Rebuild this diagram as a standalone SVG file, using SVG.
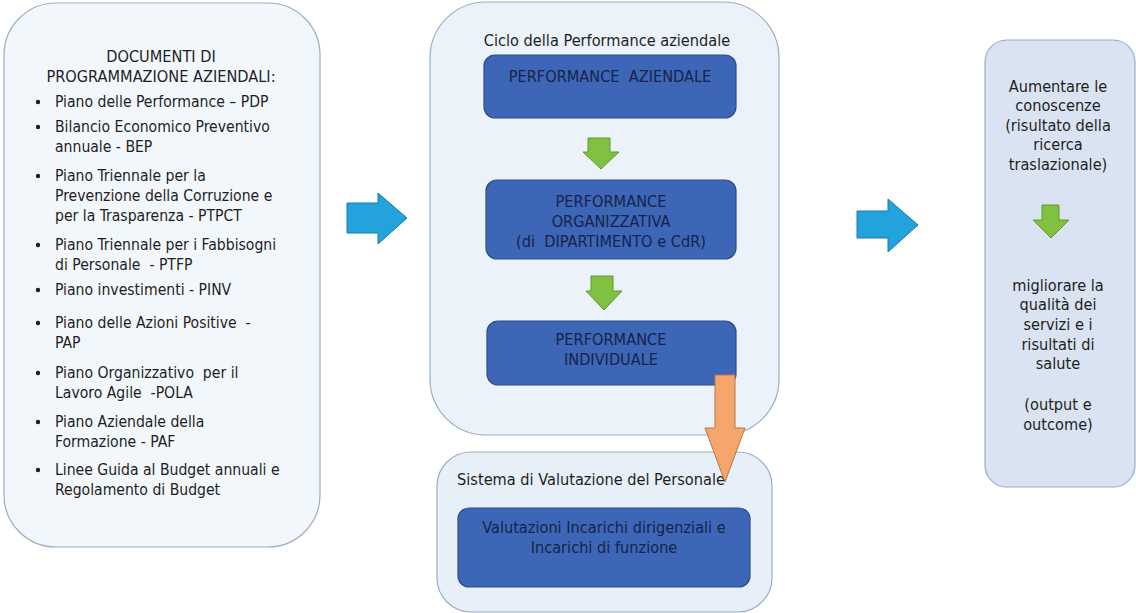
<svg xmlns="http://www.w3.org/2000/svg" width="1136" height="613" viewBox="0 0 1136 613">
  <style>
    .panel { stroke: #9aaec4; stroke-width: 1.2; }
    .box { fill: #3e66b6; stroke: #2c4d8c; stroke-width: 1.2; }
    .t { font-family: Tahoma, "DejaVu Sans Condensed", "Liberation Sans", sans-serif; fill: #1e1e1e; }
    .tl { font-size: 15.6px; }
    .tm { font-size: 16.2px; text-anchor: middle; }
    .tb { fill: #16234a; }
    .green { fill: #80c141; stroke: #5f9a2c; stroke-width: 1; }
    .blue { fill: #23a3dc; stroke: #1a78a8; stroke-width: 1; }
    .orange { fill: #f6a66c; stroke: #b77840; stroke-width: 1; }
    .dot { fill: #1e1e1e; }
  </style>
  <rect width="1136" height="613" fill="#ffffff"/>

  <!-- Planning documents -->
  <g id="documenti">
    <rect class="panel" x="4" y="3" width="316" height="544" rx="52" ry="52" fill="#f2f7fc"/>
    <text class="t tm" x="161" y="62">DOCUMENTI DI</text>
    <text class="t tm" x="161" y="82">PROGRAMMAZIONE AZIENDALI:</text>
    <g class="t tl">
      <text x="55" y="107">Piano delle Performance – PDP</text>
      <text x="55" y="132">Bilancio Economico Preventivo</text>
      <text x="55" y="152">annuale - BEP</text>
      <text x="55" y="181">Piano Triennale per la</text>
      <text x="55" y="201">Prevenzione della Corruzione e</text>
      <text x="55" y="221">per la Trasparenza - PTPCT</text>
      <text x="55" y="250">Piano Triennale per i Fabbisogni</text>
      <text x="55" y="270" xml:space="preserve">di Personale  - PTFP</text>
      <text x="55" y="295">Piano investimenti - PINV</text>
      <text x="55" y="328" xml:space="preserve">Piano delle Azioni Positive  -</text>
      <text x="55" y="348">PAP</text>
      <text x="55" y="378" xml:space="preserve">Piano Organizzativo  per il</text>
      <text x="55" y="398" xml:space="preserve">Lavoro Agile  -POLA</text>
      <text x="55" y="427">Piano Aziendale della</text>
      <text x="55" y="447">Formazione - PAF</text>
      <text x="55" y="475">Linee Guida al Budget annuali e</text>
      <text x="55" y="495">Regolamento di Budget</text>
    </g>
    <g>
      <circle class="dot" cx="38" cy="102" r="2.2"/>
      <circle class="dot" cx="38" cy="127" r="2.2"/>
      <circle class="dot" cx="38" cy="176" r="2.2"/>
      <circle class="dot" cx="38" cy="245" r="2.2"/>
      <circle class="dot" cx="38" cy="290" r="2.2"/>
      <circle class="dot" cx="38" cy="323" r="2.2"/>
      <circle class="dot" cx="38" cy="373" r="2.2"/>
      <circle class="dot" cx="38" cy="422" r="2.2"/>
      <circle class="dot" cx="38" cy="470" r="2.2"/>
    </g>
  </g>

  <!-- Performance cycle -->
  <g id="ciclo">
    <rect class="panel" x="430" y="2" width="349" height="433" rx="56" ry="56" fill="#ebf2fa"/>
    <text class="t tm" x="607" y="46">Ciclo della Performance aziendale</text>
  </g>
  <g id="perf-aziendale">
    <rect class="box" x="484" y="55" width="252" height="63" rx="11" ry="11"/>
    <text class="t tm tb" x="610" y="82" xml:space="preserve">PERFORMANCE  AZIENDALE</text>
  </g>
  <g id="perf-organizzativa">
    <rect class="box" x="486" y="180" width="250" height="79" rx="11" ry="11"/>
    <text class="t tm tb" x="611" y="207">PERFORMANCE</text>
    <text class="t tm tb" x="611" y="227">ORGANIZZATIVA</text>
    <text class="t tm tb" x="611" y="247" xml:space="preserve">(di  DIPARTIMENTO e CdR)</text>
  </g>
  <g id="perf-individuale">
    <rect class="box" x="487" y="321" width="249" height="64" rx="11" ry="11"/>
    <text class="t tm tb" x="611" y="345">PERFORMANCE</text>
    <text class="t tm tb" x="611" y="365">INDIVIDUALE</text>
  </g>

  <!-- Staff evaluation -->
  <g id="valutazione">
    <rect class="panel" x="437" y="452" width="335" height="160" rx="34" ry="34" fill="#e7eff8"/>
    <text class="t tm" x="591" y="485">Sistema di Valutazione del Personale</text>
  </g>
  <g id="incarichi">
    <rect class="box" x="458" y="508" width="292" height="79" rx="11" ry="11"/>
    <text class="t tm tb" x="604" y="533">Valutazioni Incarichi dirigenziali e</text>
    <text class="t tm tb" x="604" y="553">Incarichi di funzione</text>
  </g>

  <!-- Outcomes -->
  <g id="risultati">
    <rect class="panel" x="985" y="40" width="150" height="447" rx="22" ry="22" fill="#dae3f1"/>
    <g class="t tm">
      <text x="1058" y="92">Aumentare le</text>
      <text x="1058" y="111">conoscenze</text>
      <text x="1058" y="131">(risultato della</text>
      <text x="1058" y="150">ricerca</text>
      <text x="1058" y="170">traslazionale)</text>
      <text x="1058" y="291">migliorare la</text>
      <text x="1058" y="310">qualità dei</text>
      <text x="1058" y="330">servizi e i</text>
      <text x="1058" y="350">risultati di</text>
      <text x="1058" y="369">salute</text>
      <text x="1058" y="410">(output e</text>
      <text x="1058" y="430">outcome)</text>
    </g>
  </g>

  <!-- Connectors -->
  <g id="connettori">
    <path class="blue" d="M347,203 H378 V193 L407,218 L378,244 V233 H347 Z"/>
    <path class="blue" d="M857,211 H888 V199 L918,225 L888,252 V238 H857 Z"/>
    <path class="green" d="M588,138 H610 V152 H619 L601,169 L583,152 H588 Z"/>
    <path class="green" d="M591,276 H613 V291 H622 L604,310 L586,291 H591 Z"/>
    <path class="green" d="M1042,205 H1059 V220 H1069 L1051,238 L1033,220 H1042 Z"/>
    <path class="orange" d="M715,375 H735 V428 H745 L725,482 L705,428 H715 Z"/>
  </g>
</svg>
